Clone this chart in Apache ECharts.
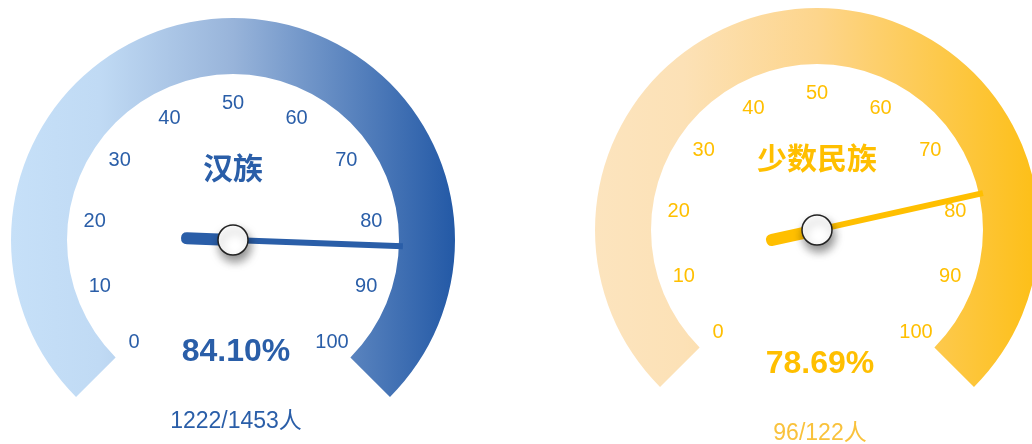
<!DOCTYPE html>
<html>
<head>
<meta charset="utf-8">
<script src="https://cdn.jsdelivr.net/npm/echarts@6/dist/echarts.min.js"></script>
<style>
html,body{margin:0;padding:0;background:#fff;}
#main{width:1032px;height:444px;}
</style>
</head>
<body>
<div id="main"></div>
<script>
const groups = ['汉族', '少数民族'];
const percents = [84.10, 78.69];
const counts = [1222, 96];
const totals = [1453, 122];
const axisMin = 0;
const axisMax = 100;

const FONT = "'Liberation Sans', 'Noto Sans CJK SC', sans-serif";
const themes = [
  { main: '#2a5ea8', stops: ['#c6e0f8', '#c0daf4', '#98b4da', '#2359a6'], sub: '#2a5ea8', center: [233, 240], detailY: 112, footY: 422 },
  { main: '#ffbf00', stops: ['#fce4be', '#fce1b6', '#fdd58c', '#fdbf16'], sub: '#f9c23c', center: [817, 230], detailY: 134, footY: 434 }
];
const pointerPath = 'path://M3,0 L9,0 L9,170 L12,170 L12,214 Q12,220 6,220 Q0,220 0,214 L0,170 L3,170 Z';

const chart = echarts.init(document.getElementById('main'));
const series = groups.map(function (g, i) {
  const t = themes[i];
  return {
    type: 'gauge',
    center: t.center,
    radius: 222,
    startAngle: 225,
    endAngle: -45,
    min: axisMin,
    max: axisMax,
    splitNumber: 10,
    axisLine: {
      lineStyle: {
        width: 56,
        color: [[1, new echarts.graphic.LinearGradient(0, 0, 1, 0, [
          { offset: 0, color: t.stops[0] },
          { offset: 0.2, color: t.stops[1] },
          { offset: 0.5, color: t.stops[2] },
          { offset: 1, color: t.stops[3] }
        ])]]
      }
    },
    axisTick: { show: false },
    splitLine: { show: false, length: 0, distance: 0 },
    axisLabel: {
      distance: 82,
      rotate: 0.0001,
      color: t.main,
      fontSize: 20,
      fontFamily: FONT,
      formatter: '{v|{value}}',
      rich: { v: { color: t.main, fontSize: 20, fontFamily: FONT, padding: [6, 0, 0, 0] } }
    },
    pointer: {
      icon: pointerPath,
      length: 222,
      width: 12,
      offsetCenter: [0, 52],
      itemStyle: { color: t.main }
    },
    anchor: {
      show: true,
      showAbove: true,
      size: 30,
      itemStyle: {
        color: '#fff',
        borderColor: '#222',
        borderWidth: 1.5,
        shadowColor: 'rgba(0,0,0,0.45)',
        shadowBlur: 10,
        shadowOffsetX: 2,
        shadowOffsetY: 6
      }
    },
    title: {
      offsetCenter: [0, -69],
      color: t.main,
      fontSize: 30,
      fontWeight: 'bold',
      fontFamily: FONT
    },
    detail: {
      offsetCenter: [3, t.detailY],
      color: t.main,
      fontSize: 32,
      fontWeight: 'bold',
      fontFamily: FONT,
      formatter: function (v) { return v.toFixed(2) + '%'; }
    },
    data: [{ value: percents[i], name: g }]
  };
});

const graphics = groups.map(function (g, i) {
  const t = themes[i];
  return {
    type: 'text',
    x: t.center[0] + 3,
    y: t.footY,
    style: {
      text: counts[i] + '/' + totals[i] + '人',
      fill: t.sub,
      font: '23px ' + FONT,
      textAlign: 'center',
      textVerticalAlign: 'middle'
    }
  };
});

chart.setOption({
  animation: false,
  series: series,
  graphic: graphics
});
</script>
</body>
</html>
